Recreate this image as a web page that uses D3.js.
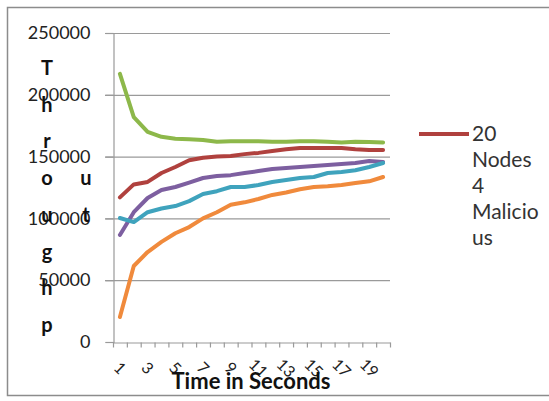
<!DOCTYPE html>
<html>
<head>
<meta charset="utf-8">
<script src="https://cdn.jsdelivr.net/npm/d3@7/dist/d3.min.js"></script>
<style>
  html, body { margin: 0; padding: 0; background: #fff; }
  svg { display: block; }
</style>
</head>
<body>
<div id="chart"></div>
<script>
// Time steps (seconds)
const categories = d3.range(1, 21);

// Throughput per series, one value per second
const seriesGreen  = [217000, 182000, 170000, 166000, 164500, 164000, 163500, 162000, 162500, 162500,
                      162500, 162000, 162000, 162500, 162500, 162000, 161500, 162000, 161800, 161500];
const seriesRed    = [117000, 127500, 129500, 136700, 141600, 147000, 149000, 150000, 150500, 152000,
                      153000, 154500, 156000, 157000, 157000, 157000, 157000, 156000, 155300, 155300];
const seriesPurple = [86600, 105000, 116500, 123000, 125400, 129000, 132700, 134300, 135000, 136700,
                      138300, 140000, 140800, 141600, 142400, 143200, 144000, 144800, 146400, 145600];
const seriesTeal   = [100300, 97000, 105000, 108000, 110000, 114000, 119700, 122000, 125400, 125400,
                      127000, 129500, 131000, 132700, 133500, 136700, 137500, 139000, 141600, 144800];
const seriesOrange = [20200, 61500, 72800, 81000, 88000, 93000, 100000, 105000, 111000, 113000,
                      115700, 119000, 121000, 123600, 125400, 126000, 127000, 128600, 130000, 133500];

const yTicks = [0, 50000, 100000, 150000, 200000, 250000];
const xTickLabels = categories.filter((d, i) => i % 2 === 0);
const yTitleMain = ["T", "h", "r", "o", "u", "g", "h", "p"];
const yTitleWrap = ["u", "t"];
const legendLines = ["20", "Nodes", "4", "Malicio", "us"];

const series = [
  { values: seriesRed,    color: "#b0413e" },
  { values: seriesPurple, color: "#7d5fa0" },
  { values: seriesTeal,   color: "#3fa3bd" },
  { values: seriesOrange, color: "#f08a3c" },
  { values: seriesGreen,  color: "#8db84a" }
];

const W = 549, H = 401;
const font = "Lato, 'Open Sans', sans-serif";

const svg = d3.select("#chart").append("svg")
  .attr("width", W).attr("height", H);

// chart frame
svg.append("path")
  .attr("d", `M${W},7.5 H7.5 V395.5 H${W}`)
  .attr("fill", "none").attr("stroke", "#8c8c8c").attr("stroke-width", 1.5);

const plot = { left: 113, right: 390, top: 33, bottom: 342 };

const x = d3.scaleBand().domain(categories).range([plot.left, plot.right]);
const y = d3.scaleLinear().domain([0, 250000]).range([plot.bottom, plot.top]);

// horizontal gridlines
svg.append("g").selectAll("line").data(yTicks.filter(d => d > 0)).join("line")
  .attr("x1", plot.left - 8).attr("x2", plot.right)
  .attr("y1", d => y(d) + 0.5).attr("y2", d => y(d) + 0.5)
  .attr("stroke", "#9a9a9a").attr("stroke-width", 1.2);

// y axis
const yAxis = svg.append("g").attr("transform", `translate(${plot.left + 0.5},0)`)
  .call(d3.axisLeft(y).tickValues(yTicks).tickSize(8).tickFormat(d3.format("d")));
yAxis.select(".domain").attr("stroke", "#9a9a9a").attr("stroke-width", 1.2);
yAxis.selectAll(".tick line").attr("stroke", "#9a9a9a").attr("stroke-width", 1.2);
yAxis.selectAll(".tick text")
  .attr("x", -23).attr("font-family", font).attr("font-size", 18).attr("fill", "#222");

// x axis
const xAxis = svg.append("g").attr("transform", `translate(0,${plot.bottom + 0.5})`)
  .call(d3.axisBottom(x).tickValues([]).tickSize(0));
xAxis.select(".domain").attr("stroke", "#9a9a9a").attr("stroke-width", 1.2);
const edges = categories.map(c => x(c)).concat([plot.right]);
xAxis.selectAll("line.edge").data(edges).join("line").attr("class", "edge")
  .attr("x1", d => d + 0.5).attr("x2", d => d + 0.5)
  .attr("y1", 0).attr("y2", 5)
  .attr("stroke", "#9a9a9a").attr("stroke-width", 1.2);

// rotated category labels, cut off along the bottom edge of the label strip
svg.append("defs").append("clipPath").attr("id", "label-strip")
  .append("rect").attr("x", 100).attr("y", 355).attr("width", 300).attr("height", 22);
svg.append("g").attr("clip-path", "url(#label-strip)")
  .selectAll("text").data(xTickLabels).join("text")
  .attr("transform", d => `translate(${x(d) + x.bandwidth() / 2 - 4},${plot.bottom + 30}) rotate(45)`)
  .attr("text-anchor", "middle")
  .attr("font-family", font).attr("font-size", 16).attr("fill", "#222")
  .text(d => d);

// lines
const line = d3.line()
  .x((d, i) => x(categories[i]) + x.bandwidth() / 2)
  .y(d => y(d));

svg.append("g").selectAll("path").data(series).join("path")
  .attr("d", s => line(s.values))
  .attr("fill", "none")
  .attr("stroke", s => s.color)
  .attr("stroke-width", 4)
  .attr("stroke-linejoin", "round")
  .attr("stroke-linecap", "round");

// x axis title
svg.append("text")
  .attr("x", 251).attr("y", 389)
  .attr("text-anchor", "middle")
  .attr("font-family", font).attr("font-weight", "bold").attr("font-size", 22)
  .attr("fill", "#111")
  .text("Time in Seconds");

// stacked y axis title
const rowStep = 36.7, row0 = 68;
svg.append("g").selectAll("text").data(yTitleMain).join("text")
  .attr("x", 47).attr("y", (d, i) => row0 + i * rowStep)
  .attr("dy", "0.35em").attr("text-anchor", "middle")
  .attr("font-family", font).attr("font-weight", "bold").attr("font-size", 20)
  .attr("fill", "#111")
  .text(d => d);
svg.append("g").selectAll("text").data(yTitleWrap).join("text")
  .attr("x", 86).attr("y", (d, i) => row0 + (i + 3) * rowStep)
  .attr("dy", "0.35em").attr("text-anchor", "middle")
  .attr("font-family", font).attr("font-weight", "bold").attr("font-size", 20)
  .attr("fill", "#111")
  .text(d => d);

// legend
const legend = svg.append("g");
legend.append("line")
  .attr("x1", 419).attr("x2", 469).attr("y1", 134).attr("y2", 134)
  .attr("stroke", series[0].color).attr("stroke-width", 4);
legend.selectAll("text").data(legendLines).join("text")
  .attr("x", 472).attr("y", (d, i) => 134 + i * 25.8)
  .attr("dy", "0.35em")
  .attr("font-family", font).attr("font-size", 21).attr("fill", "#333")
  .text(d => d);
</script>
</body>
</html>
